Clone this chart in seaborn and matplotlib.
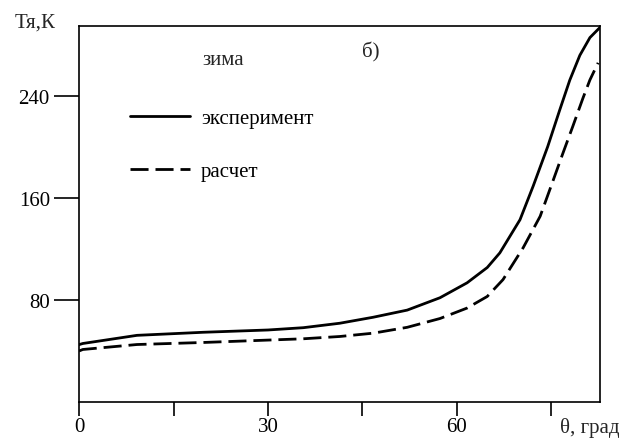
import matplotlib
matplotlib.use("Agg")
import matplotlib.pyplot as plt
import seaborn as sns
import pandas as pd

# angle, degrees
theta_exp = [0, 0.6, 9.2, 19.7, 30.0, 35.6, 41.4, 46.7, 52.1, 57.3, 61.6, 64.8,
             66.8, 70.0, 72.1, 74.4, 76.3, 77.9, 79.5, 81.1, 82.7]
# experiment, K
t_exp = [45.0, 45.9, 52.3, 54.7, 56.5, 58.3, 61.8, 66.5, 72.1, 81.8, 93.5, 105.5,
         117.0, 143.0, 169.5, 200.4, 229.0, 252.5, 272.0, 285.9, 293.9]

theta_calc = [0, 0.6, 9.2, 19.7, 35.6, 41.4, 46.7, 52.1, 57.3, 61.6, 64.8,
              67.3, 70.5, 73.2, 75.2, 76.8, 78.4, 80.0, 81.1, 82.4]
# calculation, K
t_calc = [40.0, 41.2, 45.1, 46.7, 49.6, 51.4, 54.0, 58.6, 65.5, 73.7, 82.8,
          96.0, 121.0, 145.7, 173.0, 195.0, 216.5, 238.5, 252.7, 266.1]

x_ticks = [0, 15, 30, 45, 60, 75]
x_labels = ["0", "", "30", "", "60", ""]
y_ticks = [80, 160, 240]

df = pd.concat([
    pd.DataFrame({"theta": theta_exp, "T": t_exp, "kind": "эксперимент"}),
    pd.DataFrame({"theta": theta_calc, "T": t_calc, "kind": "расчет"}),
])

sns.set_theme(style="ticks")
plt.rcParams["font.family"] = ["Liberation Serif", "DejaVu Serif"]
plt.rcParams["font.size"] = 15

fig = plt.figure(figsize=(6.29, 4.39), dpi=100)
ax = fig.add_axes([0.1256, 0.082, 0.8283, 0.8565])

sns.lineplot(data=df, x="theta", y="T", style="kind", color="black",
             linewidth=2.0, dashes={"эксперимент": "", "расчет": (6.5, 2.5)},
             sort=False, ax=ax)

ax.set_xlim(0, 82.7)
ax.set_ylim(0, 295)
ax.set_xticks(x_ticks)
ax.set_xticklabels(x_labels)
ax.set_yticks(y_ticks)
ax.tick_params(axis="y", direction="out", length=18, width=1.2, pad=3,
               labelsize=15, colors="black")
ax.tick_params(axis="x", direction="out", length=10, width=1.2, pad=1,
               labelsize=15, colors="black")
for s in ax.spines.values():
    s.set_visible(True)
    s.set_linewidth(1.2)
    s.set_color("black")
ax.set_xlabel("")
ax.set_ylabel("")

leg = ax.legend(loc="upper left", bbox_to_anchor=(0.098, 0.78), frameon=False,
                handlelength=2.9, handletextpad=0.5, labelspacing=1.6,
                borderpad=0, borderaxespad=0, fontsize=15)
for t in leg.get_texts():
    t.set_color("black")

ax.text(0.236, 0.899, "зима", transform=ax.transAxes, fontsize=15,
        va="baseline", ha="left")
ax.text(0.543, 0.918, "б)", transform=ax.transAxes, fontsize=15,
        va="baseline", ha="left")

fig.text(15 / 629, 1 - 28 / 439, "Тя,К", fontsize=15, va="baseline", ha="left")
fig.text(560 / 629, 1 - 433 / 439, "θ, град", fontsize=15, va="baseline",
         ha="left")

fig.savefig("out.png", dpi=100)
